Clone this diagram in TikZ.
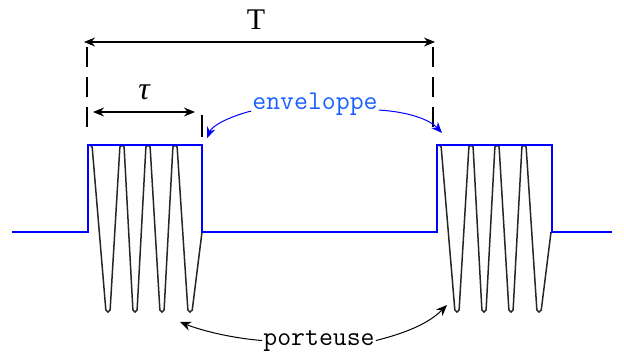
\documentclass[tikz,border=0pt]{standalone}
\usepackage{fontspec}
\usetikzlibrary{arrows.meta}
\newfontfamily\seriffont{Liberation Serif}
\definecolor{envblue}{RGB}{0,0,255}
\definecolor{labelblue}{RGB}{25,95,255}

\begin{document}
\begin{tikzpicture}[x=1pt, y=-1pt,
    envline/.style={envblue, line width=2pt, line join=miter},
    carrier/.style={black!85, line width=1.5pt, rounded corners=2pt},
    dimline/.style={{Stealth[length=11pt,width=9pt]}-{Stealth[length=11pt,width=9pt]}, line width=1.2pt},
    guide/.style={line width=1.1pt, dash pattern=on 20pt off 10pt},
    envarrow/.style={-{Stealth[length=11pt,width=9pt]}, envblue, line width=1pt},
    portarrow/.style={-{Stealth[length=11pt,width=9pt]}, black, line width=1pt},
    lbl/.style={font=\ttfamily\fontsize{27}{30}\selectfont, anchor=base, inner sep=1pt}]
  \useasboundingbox (0,0) rectangle (624,354);
  % carrier fingers inside each pulse
  \foreach \s in {88,437}
    \draw[carrier] (\s+1,145) -- (\s+4,145) -- (\s+18,312) -- (\s+22,312) -- (\s+32,145) -- (\s+36,145)
      -- (\s+45,312) -- (\s+49,312) -- (\s+58,145) -- (\s+62,145) -- (\s+72,312) -- (\s+76,312)
      -- (\s+85,145) -- (\s+89,145) -- (\s+100,312) -- (\s+104,312) -- (\s+114,232);
  % envelope
  \draw[envline] (12,232) -- (88,232) -- (88,145) -- (202,145) -- (202,232)
    -- (437,232) -- (437,145) -- (552,145) -- (552,232) -- (612,232);
  % guide lines
  \draw[guide] (87,47) -- (87,130);
  \draw[guide] (433,47) -- (433,128);
  \draw[line width=1.1pt] (202,115) -- (202,137);
  % period and width
  \coordinate (Ta) at (84,42);
  \coordinate (Tb) at (435,42);
  \coordinate (ta) at (93,112);
  \coordinate (tb) at (195,112);
  \draw[dimline] (Ta) -- (Tb);
  \draw[dimline] (ta) -- (tb);
  \node[font=\seriffont\fontsize{30}{32}\selectfont, inner sep=0pt] (Tlab) at (256,20) {T};
  \node[font=\seriffont\itshape\fontsize{32}{34}\selectfont, inner sep=0pt] (taulab) at (144,92) {τ};
  % labels
  \node[lbl, text=labelblue] (env) at (315,109) {enveloppe};
  \node[lbl] (port) at (319,345) {porteuse};
  \coordinate (envL) at (207,138);
  \coordinate (envR) at (442,133);
  \coordinate (portL) at (180,322);
  \coordinate (portR) at (447,305);
  \draw[envarrow] ([yshift=-2pt]env.base west) .. controls (228,117) and (212,126) .. (envL);
  \draw[envarrow] ([yshift=-1pt]env.base east) .. controls (410,112) and (430,120) .. (envR);
  \draw[portarrow] (port.west) .. controls (230,338) and (200,330) .. (portL);
  \draw[portarrow] (port.east) .. controls (410,332) and (430,322) .. (portR);
\end{tikzpicture}
\end{document}
